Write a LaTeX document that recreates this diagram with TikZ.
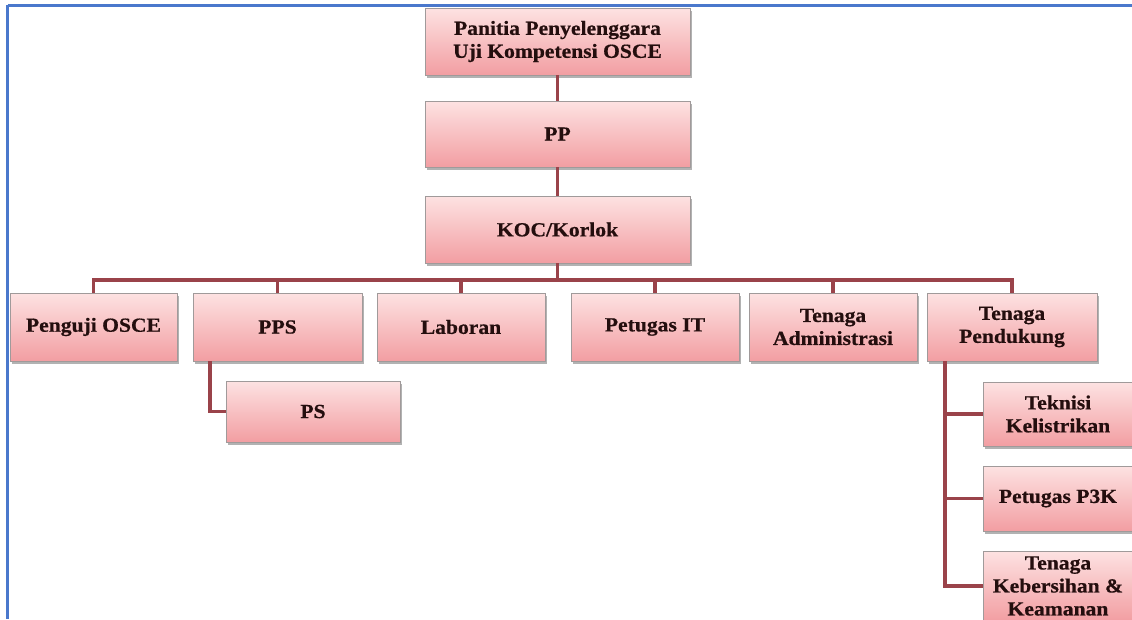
\documentclass[tikz,border=0pt]{standalone}
\usepackage{fontspec}
\setmainfont{Liberation Serif}[FakeStretch=1.08]
\newfontfamily\boxfont{Liberation Serif}[FakeStretch=1.08, BoldFont={Liberation Serif Bold}, BoldFeatures={FakeBold=0.6}]
\usetikzlibrary{shadows}
\definecolor{boxtop}{HTML}{FDE2E2}
\definecolor{boxbot}{HTML}{F29EA2}
\definecolor{boxline}{HTML}{A09A9A}
\definecolor{conncol}{HTML}{9A434A}
\definecolor{txtcol}{HTML}{240E0E}
\definecolor{framecol}{HTML}{4A78CC}
\tikzset{
  orgbox/.style={draw=boxline, line width=0.8pt, top color=boxtop, bottom color=boxbot,
    drop shadow={shadow xshift=1.5pt, shadow yshift=-2.5pt, opacity=0.5, fill=black!60},
    text=txtcol, font=\boxfont\fontsize{20}{23}\selectfont\bfseries, align=center,
    inner sep=2pt, anchor=center},
  conn/.style={draw=conncol, line width=3.2pt},
  frameline/.style={draw=framecol, line width=3pt}
}
\begin{document}
\begin{tikzpicture}[x=1pt,y=-1pt]
\useasboundingbox (0,0) rectangle (1132,619);
\clip (0,0) rectangle (1132,619);
\fill[white] (0,0) rectangle (1132,619);
% frame
\draw[frameline] (7.5,5) -- (1132,5);
\draw[frameline] (7.5,5) -- (7.5,619);
% boxes
\node[orgbox, minimum width=265pt, minimum height=67pt] (top) at (557.5,41.5) {Panitia Penyelenggara\\Uji Kompetensi OSCE};
\node[orgbox, minimum width=265pt, minimum height=66pt] (pp) at (557.5,134) {PP};
\node[orgbox, minimum width=265pt, minimum height=67pt] (koc) at (557.5,229.5) {KOC/Korlok};
\node[orgbox, minimum width=167pt, minimum height=68pt] (penguji) at (93.5,327) {Penguji OSCE};
\node[orgbox, minimum width=169pt, minimum height=68pt] (pps) at (277.5,327) {PPS};
\node[orgbox, minimum width=168pt, minimum height=68pt] (laboran) at (461,327) {Laboran};
\node[orgbox, minimum width=168pt, minimum height=68pt] (it) at (655,327) {Petugas IT};
\node[orgbox, minimum width=168pt, minimum height=68pt] (adm) at (833,327) {Tenaga\\Administrasi};
\node[orgbox, minimum width=170pt, minimum height=68pt] (tp) at (1012,327) {Tenaga\\Pendukung};
\node[orgbox, minimum width=174pt, minimum height=61pt] (ps) at (313,411.5) {PS};
\node[orgbox, minimum width=150pt, minimum height=64pt] (tek) at (1058,414) {Teknisi\\Kelistrikan};
\node[orgbox, minimum width=150pt, minimum height=65pt] (p3k) at (1058,498.5) {Petugas P3K};
\node[orgbox, minimum width=150pt, minimum height=70pt] (keb) at (1058,586) {Tenaga\\Kebersihan \&\\Keamanan};
% connectors
\coordinate (bus) at (557.5,280);
\coordinate (ppsdrop) at (210,361);
\coordinate (tpdrop) at (945,361);
\draw[conn] (top.south) -- (pp.north);
\draw[conn] (pp.south) -- (koc.north);
\draw[conn] (koc.south) -- (bus);
\draw[conn] (penguji.north) |- (bus);
\draw[conn] (pps.north) |- (bus);
\draw[conn] (laboran.north) |- (bus);
\draw[conn] (it.north) |- (bus);
\draw[conn] (adm.north) |- (bus);
\draw[conn] (tp.north) |- (bus);
\draw[conn] (ppsdrop) |- (ps.west);
\draw[conn] (tpdrop) |- (tek.west);
\draw[conn] (tpdrop) |- (p3k.west);
\draw[conn] (tpdrop) |- (keb.west);
\end{tikzpicture}
\end{document}
